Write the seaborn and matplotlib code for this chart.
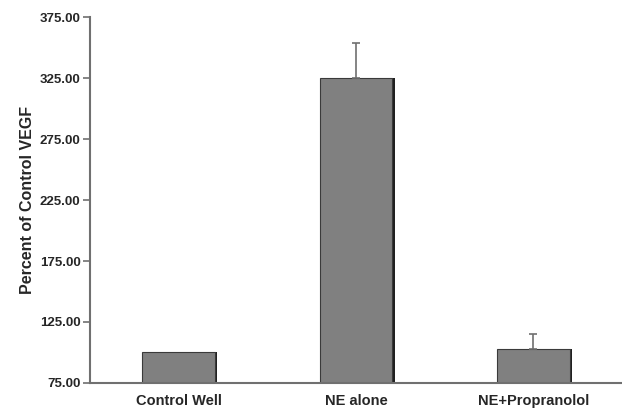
import matplotlib
matplotlib.use("Agg")
import matplotlib.pyplot as plt
import matplotlib.patheffects as pe
import seaborn as sns
import pandas as pd

groups = ['Control Well', 'NE alone', 'NE+Propranolol']
percent_vegf = [100, 325, 103]
err_upper = [0, 29, 12]

data = pd.DataFrame({'group': groups, 'value': percent_vegf, 'err': err_upper})
data['pos'] = range(len(groups))

sns.set_style('white')
plt.rcParams['font.family'] = ['Liberation Sans', 'DejaVu Sans']

fig = plt.figure(figsize=(6.22, 4.12), dpi=100)
ax = fig.add_axes([0.145, 0.0704, 0.855, 0.8883])

sns.barplot(x='group', y='value', data=data, color='#808080', width=0.41,
            edgecolor='#3a3a3a', linewidth=0.8, saturation=1, ax=ax)
for p in ax.patches:
    p.set_path_effects([pe.SimplePatchShadow(offset=(1.5, 0), shadow_rgbFace='#202020', alpha=1), pe.Normal()])

# only upper error bars, control has none
with_err = data[data['err'] > 0]
ax.errorbar(with_err['pos'], with_err['value'], yerr=[[0] * len(with_err), with_err['err']],
            fmt='none', ecolor='#707070', elinewidth=1.2, capsize=3, capthick=1.2)

ax.set_ylim(75, 375)
ax.set_xlim(-0.5, 2.5)
yt = [75, 125, 175, 225, 275, 325, 375]
ax.set_yticks(yt)
ax.set_yticklabels(['%.2f' % v for v in yt], fontsize=9.5, fontweight='bold')
ax.set_xticks(range(len(groups)))
ax.set_xticklabels(groups, fontsize=10.5, fontweight='bold')
ax.tick_params(axis='x', length=0, pad=8)
ax.tick_params(axis='y', direction='out', length=5, width=1.2, color='#707070', left=True, pad=2)
ax.set_xlabel('')
ax.set_ylabel('Percent of Control VEGF', fontsize=11.5, fontweight='bold', labelpad=3)

for side in ['top', 'right']:
    ax.spines[side].set_visible(False)
for side in ['left', 'bottom']:
    ax.spines[side].set_color('#707070')
    ax.spines[side].set_linewidth(1.5)

fig.savefig('out.png', dpi=100)
